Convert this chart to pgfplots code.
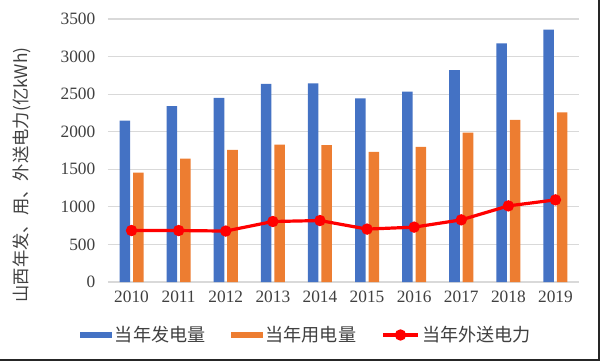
\documentclass[border=0pt]{standalone}
\usepackage{fontspec}
\setmainfont{Liberation Serif}
\newfontfamily\cjk{Noto Sans CJK SC}
\usepackage{pgfplots}
\pgfplotsset{compat=1.18}
\definecolor{barblue}{HTML}{4472C4}
\definecolor{barorange}{HTML}{ED7D31}
\definecolor{linered}{HTML}{FF0000}
\definecolor{txtgray}{HTML}{404040}
\definecolor{gridgray}{HTML}{D9D9D9}
\begin{document}
\begin{tikzpicture}[x=0.75pt,y=0.75pt]
\path[use as bounding box] (-108,-79) rectangle (492,282);
\draw[black!85, line width=2pt] (491,282) -- (491,-78) -- (-108,-78);
\begin{axis}[
  at={(0,0)}, anchor=south west,
  scale only axis, width=353.25pt, height=197.25pt,
  xmin=-0.5, xmax=9.5, ymin=0, ymax=3500,
  ytick={0,500,1000,1500,2000,2500,3000,3500},
  xtick={0,1,2,3,4,5,6,7,8,9},
  xticklabels={2010,2011,2012,2013,2014,2015,2016,2017,2018,2019},
  ymajorgrids, grid style={draw=gridgray, line width=0.9pt},
  axis line style={draw=none},
  tick style={draw=none},
  ticklabel style={font=\fontsize{13}{13}\selectfont, text=txtgray},
  yticklabel style={xshift=-6pt},
  xticklabel style={yshift=-3pt},
  /pgf/number format/assume math mode=true,
  /pgf/number format/set thousands separator={},
  ylabel={\cjk 山西年发、用、外送电力(亿kWh)},
  ylabel style={at={(axis description cs:-0.182,0.407)}, anchor=center, font=\fontsize{13}{13}\selectfont, text=txtgray},
  legend columns=3,
  legend style={at={(axis description cs:-0.068,-0.2015)}, anchor=west, draw=none, fill=none,
    font=\cjk\fontsize{13.6}{14}\selectfont, text=txtgray,
    /tikz/every even column/.append style={column sep=17pt}},
]
\addplot[ybar, bar width=7.9pt, bar shift=-5.06pt, fill=barblue, draw=none,
  legend image code/.code={\fill[barblue] (0pt,-2.5pt) rectangle (24pt,2.5pt);}]
  coordinates {(0,2146) (1,2342) (2,2452) (3,2638) (4,2643) (5,2444) (6,2532) (7,2820) (8,3175) (9,3360)};
\addlegendentry{当年发电量}
\addplot[ybar, bar width=7.9pt, bar shift=5.06pt, fill=barorange, draw=none,
  legend image code/.code={\fill[barorange] (0pt,-2.5pt) rectangle (24pt,2.5pt);}]
  coordinates {(0,1456) (1,1642) (2,1757) (3,1828) (4,1820) (5,1731) (6,1797) (7,1987) (8,2156) (9,2258)};
\addlegendentry{当年用电量}
\addplot[linered, line width=2.4pt, mark=*, mark size=3pt, mark options={fill=linered, draw=linered},
  legend image code/.code={\draw[linered, line width=2.4pt] (0pt,0pt) -- (26pt,0pt); \fill[linered] (13pt,0pt) circle (3pt);}]
  coordinates {(0,685) (1,685) (2,678) (3,805) (4,818) (5,704) (6,730) (7,827) (8,1013) (9,1093)};
\addlegendentry{当年外送电力}
\end{axis}
\end{tikzpicture}
\end{document}
